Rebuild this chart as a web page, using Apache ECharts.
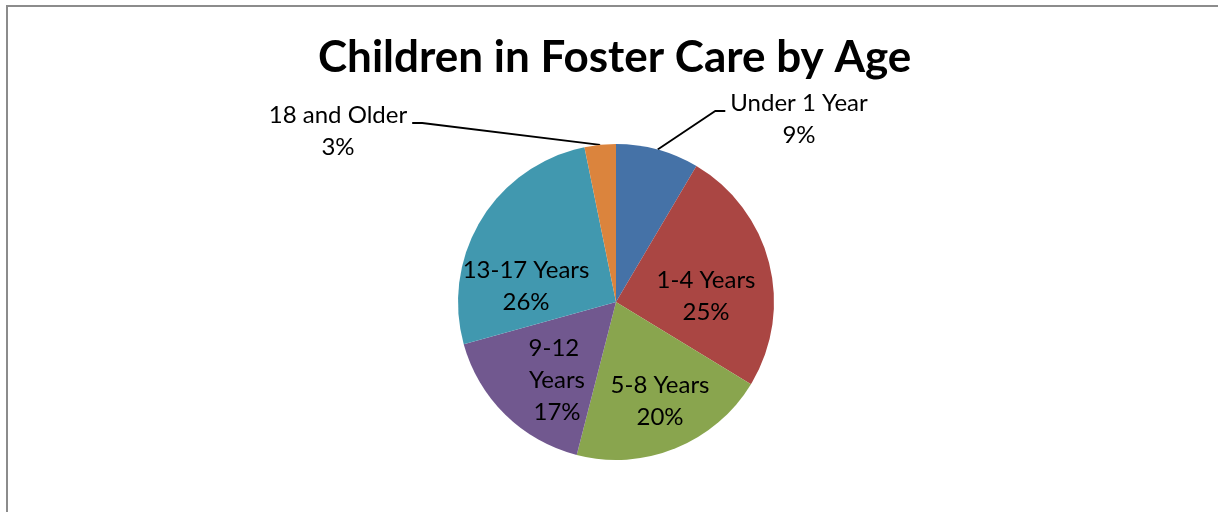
<!DOCTYPE html>
<html>
<head>
<meta charset="utf-8">
<script src="https://cdn.jsdelivr.net/npm/echarts@6/dist/echarts.min.js"></script>
<style>
html,body{margin:0;padding:0;background:#fff;}
#chart{width:1218px;height:512px;}
</style>
</head>
<body>
<div id="chart"></div>
<script>
// ---- data ----
const categories = ['Under 1 Year', '1-4 Years', '5-8 Years', '9-12 Years', '13-17 Years', '18 and Older'];
const values = [8.5, 25.2, 20.3, 16.7, 26.1, 3.2];
const colors = ['#4572A7', '#AA4643', '#89A54E', '#71588F', '#4198AF', '#DB843D'];
const titleText = 'Children in Foster Care by Age';

// ---- layout / style ----
const CX = 616, CY = 302, R = 158;
// label centre offsets relative to pie centre
const labelOffsets = [[183, -183], [90, -6], [44, 99], [-59, 78], [-90, -16], [-278, -171]];
const outsideIdx = [0, 5];
const FONT = 'Lato';

const chart = echarts.init(document.getElementById('chart'));

const data = categories.map((name, i) => {
  const item = { name: name, value: values[i], itemStyle: { color: colors[i] } };
  if (outsideIdx.indexOf(i) >= 0) {
    item.label = { position: 'outside' };
    item.labelLine = { show: true, length: 20, length2: 10 };
  } else {
    item.label = { position: 'inside' };
    item.labelLine = { show: false };
  }
  if (name === '9-12 Years') {
    item.label.width = 80;
    item.label.overflow = 'break';
  }
  return item;
});

chart.setOption({
  animation: false,
  backgroundColor: '#ffffff',
  title: {
    text: titleText,
    left: 313,
    top: 31,
    textStyle: { fontFamily: FONT, fontWeight: 'bold', fontSize: 44, color: '#000' }
  },
  graphic: [{
    type: 'rect',
    shape: { x: 7, y: 6, width: 1400, height: 700 },
    style: { fill: 'none', stroke: '#8c8c8c', lineWidth: 2 },
    silent: true
  }],
  series: [{
    type: 'pie',
    center: [CX, CY],
    radius: [0, R],
    startAngle: 90,
    clockwise: true,
    percentPrecision: 0,
    avoidLabelOverlap: false,
    data: data,
    itemStyle: { borderWidth: 0 },
    emphasis: { disabled: true },
    label: {
      show: true,
      formatter: '{b}\n{d}%',
      fontFamily: FONT,
      fontSize: 24,
      lineHeight: 32,
      color: '#000',
      align: 'center'
    },
    labelLine: { lineStyle: { color: '#000', width: 1.8 }, smooth: false },
    labelLayout: function (p) {
      const off = labelOffsets[p.dataIndex];
      const x = CX + off[0], y = CY + off[1];
      const res = { x: x, y: y, align: 'center', verticalAlign: 'middle' };
      if (outsideIdx.indexOf(p.dataIndex) >= 0 && p.labelLinePoints) {
        const start = p.labelLinePoints[0];
        const w = p.labelRect.width, h = p.labelRect.height;
        const lineY = y - h / 2 + 24;
        if (off[0] > 0) {
          const endX = x - w / 2 - 5;
          res.labelLinePoints = [start, [endX - 10, lineY], [endX, lineY]];
        } else {
          const endX = x + w / 2 + 5;
          res.labelLinePoints = [start, [endX + 10, lineY], [endX, lineY]];
        }
      }
      return res;
    }
  }]
});
</script>
</body>
</html>
